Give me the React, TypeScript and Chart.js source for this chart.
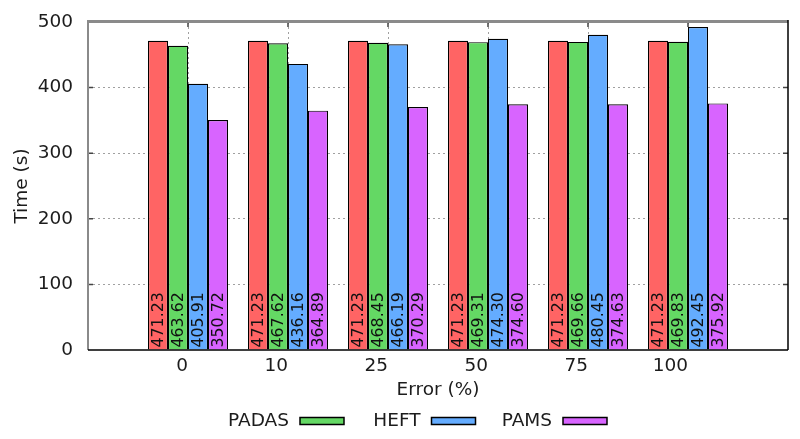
import React, { useEffect, useRef } from 'react';
import { Chart, registerables } from 'chart.js';

Chart.register(...registerables);

const categories = ['0', '10', '25', '50', '75', '100'];
const unlabeledValues = [471.23, 471.23, 471.23, 471.23, 471.23, 471.23];
const padasValues = [463.62, 467.62, 468.45, 469.31, 469.66, 469.83];
const heftValues = [405.91, 436.16, 466.19, 474.3, 480.45, 492.45];
const pamsValues = [350.72, 364.89, 370.29, 374.6, 374.63, 375.92];
const seriesLabels = ['', 'PADAS', 'HEFT', 'PAMS'];
const seriesColors = ['#ff6464', '#64d864', '#64acff', '#d864ff'];
const yMin = 0;
const yMax = 500;
const yStep = 100;
const xTitle = 'Error (%)';
const yTitle = 'Time (s)';

const FONT = '"DejaVu Sans", sans-serif';
const TEXT = '#1c1c1c';

const pad = (arr: (number | string)[], fill: any) => [fill, ...arr, fill];

const barLabelPlugin = {
  id: 'barLabels',
  afterDatasetsDraw(chart: any) {
    const { ctx } = chart;
    ctx.save();
    ctx.font = `15.8px ${FONT}`;
    ctx.fillStyle = '#111';
    ctx.textAlign = 'left';
    ctx.textBaseline = 'middle';
    chart.data.datasets.forEach((ds: any, di: number) => {
      const meta = chart.getDatasetMeta(di);
      meta.data.forEach((el: any, i: number) => {
        const v = ds.data[i];
        if (v === null || v === undefined) return;
        ctx.save();
        ctx.translate(el.x, el.base - 2);
        ctx.rotate(-Math.PI / 2);
        ctx.fillText(Number(v).toFixed(2), 0, 0.5);
        ctx.restore();
      });
    });
    ctx.restore();
  },
};

const frameLegendPlugin = {
  id: 'frameLegend',
  afterDraw(chart: any) {
    const { ctx, chartArea, scales } = chart;
    const { left, right, top, bottom } = chartArea;
    ctx.save();
    // inward tick marks
    ctx.strokeStyle = '#444';
    ctx.lineWidth = 1.5;
    ctx.beginPath();
    scales.y.ticks.forEach((t: any) => {
      if (t.value <= yMin || t.value >= yMax) return;
      const py = scales.y.getPixelForValue(t.value);
      ctx.moveTo(left, py);
      ctx.lineTo(left + 5, py);
      ctx.moveTo(right - 5, py);
      ctx.lineTo(right, py);
    });
    for (let i = 1; i <= categories.length; i++) {
      const px = scales.x.getPixelForValue(i);
      ctx.moveTo(px, top);
      ctx.lineTo(px, top + 5);
    }
    ctx.stroke();
    // borders
    ctx.strokeStyle = '#8a8a8a';
    ctx.lineWidth = 3;
    ctx.beginPath();
    ctx.moveTo(left - 1, top - 0.5);
    ctx.lineTo(right, top - 0.5);
    ctx.stroke();
    ctx.lineWidth = 2;
    ctx.beginPath();
    ctx.moveTo(left, top);
    ctx.lineTo(left, bottom);
    ctx.stroke();
    ctx.strokeStyle = '#000';
    ctx.lineWidth = 1.5;
    ctx.beginPath();
    ctx.moveTo(left, bottom);
    ctx.lineTo(right, bottom);
    ctx.moveTo(right, top - 2);
    ctx.lineTo(right, bottom);
    ctx.stroke();

    // legend: title followed by swatch (gnuplot style)
    ctx.font = `18.5px ${FONT}`;
    ctx.fillStyle = TEXT;
    ctx.textAlign = 'right';
    ctx.textBaseline = 'middle';
    const ly = 421;
    let col = 0;
    chart.data.datasets.forEach((ds: any) => {
      if (!ds.label) return;
      const sx = left + 212 + col * 131.5;
      ctx.fillText(ds.label, sx - 11, ly);
      ctx.fillStyle = ds.backgroundColor;
      ctx.fillRect(sx, ly - 3.5, 44, 7);
      ctx.strokeStyle = '#000';
      ctx.lineWidth = 1.5;
      ctx.strokeRect(sx, ly - 3.5, 44, 7);
      ctx.fillStyle = TEXT;
      col++;
    });
    ctx.restore();
  },
};

export default function App() {
  const ref = useRef<HTMLCanvasElement | null>(null);

  useEffect(() => {
    if (!ref.current) return;
    const seriesValues = [unlabeledValues, padasValues, heftValues, pamsValues];
    const chart = new Chart(ref.current, {
      type: 'bar',
      data: {
        labels: pad(categories, ''),
        datasets: seriesValues.map((vals, i) => ({
          label: seriesLabels[i],
          data: pad(vals, null) as any,
          backgroundColor: seriesColors[i],
          borderColor: '#000',
          borderWidth: 1.2,
          categoryPercentage: 0.8,
          barPercentage: 1.0,
        })),
      },
      options: {
        responsive: false,
        animation: false,
        layout: { padding: { left: 0, right: 12, top: 22, bottom: 0 } },
        plugins: {
          legend: { display: false },
          tooltip: { enabled: false },
        },
        scales: {
          x: {
            type: 'category',
            offset: false,
            border: { display: false, dash: [2, 3] },
            grid: {
              offset: false,
              drawTicks: false,
              color: (c: any) =>
                c.index === 0 || c.index === categories.length + 1 ? 'rgba(0,0,0,0)' : '#a0a0a0',
              lineWidth: 1,
            } as any,
            ticks: {
              autoSkip: false,
              maxRotation: 0,
              align: 'end',
              padding: 5,
              color: TEXT,
              font: { family: FONT, size: 18.5 },
            },
            title: {
              display: true,
              text: xTitle,
              color: TEXT,
              font: { family: FONT, size: 18.5 },
              padding: { top: 0, bottom: 38 },
            },
            afterFit: (s: any) => {
              s.height = 89;
              s.paddingLeft = 0;
              s.paddingRight = 0;
            },
          },
          y: {
            min: yMin,
            max: yMax,
            border: { display: false, dash: [2, 3] },
            grid: {
              drawTicks: false,
              color: (c: any) =>
                c.tick && (c.tick.value <= yMin || c.tick.value >= yMax) ? 'rgba(0,0,0,0)' : '#a0a0a0',
              lineWidth: 1,
            },
            ticks: {
              stepSize: yStep,
              padding: 15,
              color: TEXT,
              font: { family: FONT, size: 18.5 },
            },
            title: {
              display: true,
              text: yTitle,
              color: TEXT,
              font: { family: FONT, size: 18.5 },
              padding: { top: 11, bottom: 0 },
            },
            afterFit: (s: any) => {
              s.width = 88;
              s.paddingTop = 0;
              s.paddingBottom = 0;
            },
          },
        },
      },
      plugins: [barLabelPlugin, frameLegendPlugin],
    });
    return () => chart.destroy();
  }, []);

  return (
    <div style={{ position: 'absolute', left: 0, top: 0, width: 800, height: 439, background: '#fff' }}>
      <canvas ref={ref} width={800} height={439} style={{ display: 'block' }} />
    </div>
  );
}
